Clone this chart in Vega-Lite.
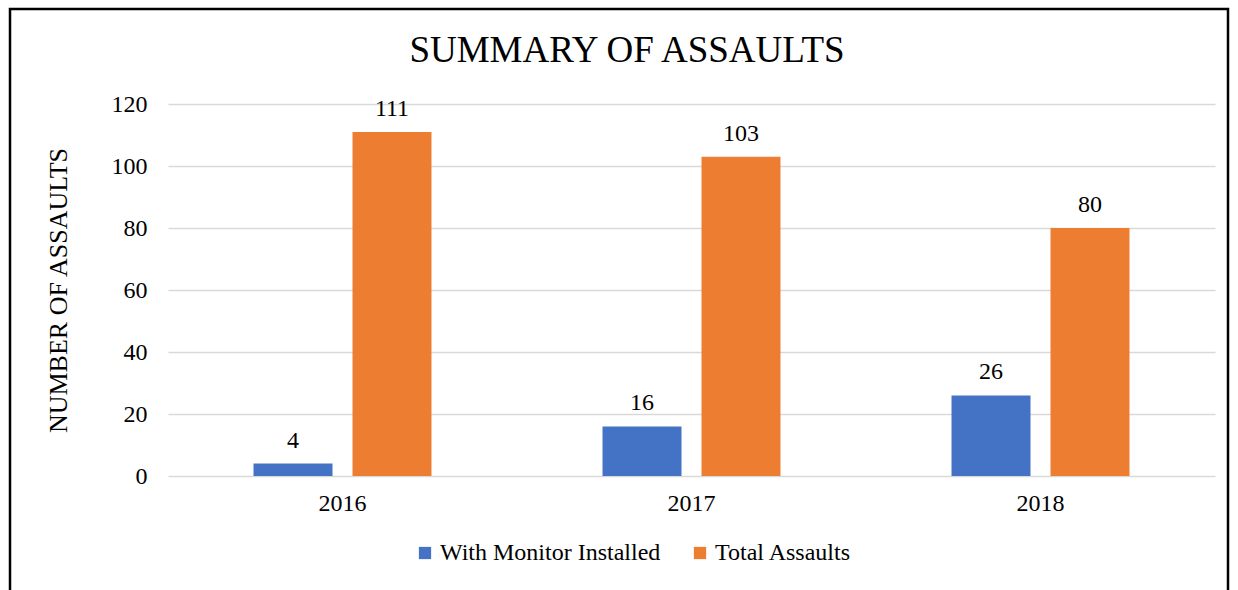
{
  "$schema": "https://vega.github.io/schema/vega-lite/v6.json",
  "width": 1218,
  "height": 600,
  "autosize": {"type": "none"},
  "padding": {"left": 10, "top": 9, "right": 10, "bottom": 0},
  "background": "white",
  "title": {
    "text": "SUMMARY OF ASSAULTS",
    "font": "Liberation Serif",
    "fontSize": 37,
    "fontWeight": "normal",
    "color": "black",
    "anchor": "middle",
    "baseline": "alphabetic",
    "offset": -90,
    "dx": 8
  },
  "data": {
    "values": [
      {"year": "2016", "series": "With Monitor Installed", "value": 4},
      {"year": "2016", "series": "Total Assaults", "value": 111},
      {"year": "2017", "series": "With Monitor Installed", "value": 16},
      {"year": "2017", "series": "Total Assaults", "value": 103},
      {"year": "2018", "series": "With Monitor Installed", "value": 26},
      {"year": "2018", "series": "Total Assaults", "value": 80}
    ]
  },
  "encoding": {
    "x": {
      "field": "year",
      "type": "nominal",
      "scale": {"range": [158, 1205], "paddingInner": 0, "paddingOuter": 0},
      "axis": {
        "title": null,
        "domain": false,
        "ticks": false,
        "tickSize": 0,
        "grid": false,
        "offset": -133,
        "labelAngle": 0,
        "labelPadding": 15,
        "labelFont": "Liberation Serif",
        "labelFontSize": 24,
        "labelColor": "black"
      }
    },
    "xOffset": {
      "field": "series",
      "type": "nominal",
      "sort": ["With Monitor Installed", "Total Assaults"],
      "scale": {"paddingInner": 0.202, "paddingOuter": 0.864}
    },
    "y": {
      "field": "value",
      "type": "quantitative",
      "scale": {"domain": [0, 120], "range": [467, 95], "nice": false},
      "axis": {
        "title": "NUMBER OF ASSAULTS",
        "titleFont": "Liberation Serif",
        "titleFontSize": 26,
        "titleFontWeight": "normal",
        "titleColor": "black",
        "titlePadding": 40,
        "values": [0, 20, 40, 60, 80, 100, 120],
        "domain": false,
        "ticks": false,
        "tickSize": 0,
        "offset": -158,
        "labelPadding": 21,
        "labelFont": "Liberation Serif",
        "labelFontSize": 24,
        "labelColor": "black",
        "grid": true,
        "gridColor": "#d9d9d9",
        "gridWidth": 1.5
      }
    }
  },
  "layer": [
    {
      "mark": {"type": "bar"},
      "encoding": {
        "color": {
          "field": "series",
          "type": "nominal",
          "sort": ["With Monitor Installed", "Total Assaults"],
          "scale": {"domain": ["With Monitor Installed", "Total Assaults"], "range": ["#4472C4", "#ED7D31"]},
          "legend": {
            "title": null,
            "orient": "none",
            "direction": "horizontal",
            "legendX": 403,
            "legendY": 532,
            "symbolType": "square",
            "symbolSize": 150,
            "symbolStrokeWidth": 0,
            "labelFont": "Liberation Serif",
            "labelFontSize": 24,
            "labelColor": "black",
            "labelLimit": 0,
            "labelOffset": 3,
            "columnPadding": 27
          }
        }
      }
    },
    {
      "mark": {
        "type": "text",
        "baseline": "alphabetic",
        "dy": -16,
        "font": "Liberation Serif",
        "fontSize": 24,
        "color": "black"
      },
      "encoding": {"text": {"field": "value", "type": "quantitative"}}
    }
  ],
  "config": {
    "view": {"stroke": "black", "strokeWidth": 2.5}
  }
}
